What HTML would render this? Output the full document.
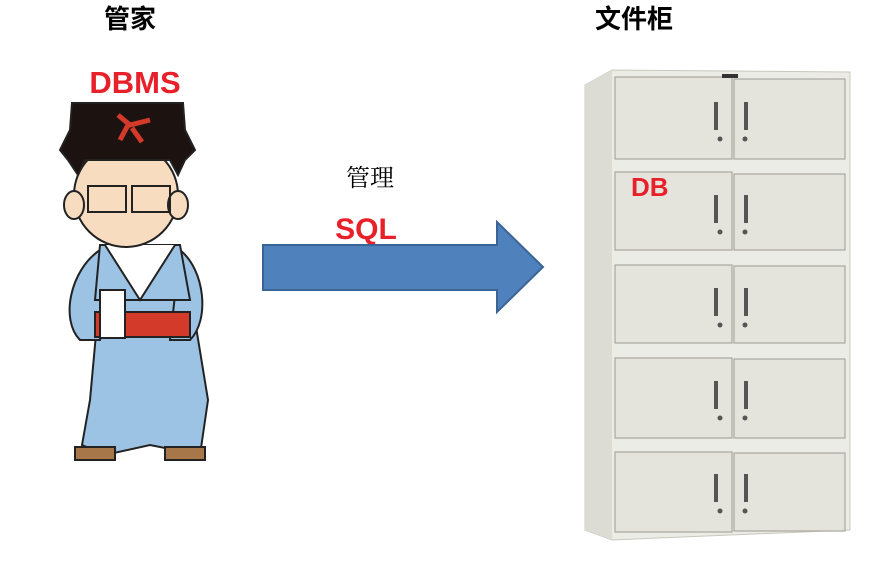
<!DOCTYPE html>
<html><head><meta charset="utf-8"><style>
body{margin:0;background:#fff;width:871px;height:571px;overflow:hidden;font-family:"Liberation Sans","Noto Sans CJK SC",sans-serif}
</style></head><body>
<svg width="871" height="571" viewBox="0 0 871 571" xmlns="http://www.w3.org/2000/svg">
<text x="130" y="28" font-size="26" text-anchor="middle" font-family="Noto Sans CJK SC,sans-serif" font-weight="bold">管家</text>
<text x="634" y="28" font-size="26" text-anchor="middle" font-family="Noto Sans CJK SC,sans-serif" font-weight="bold">文件柜</text>
<text x="135" y="93" font-size="31" text-anchor="middle" fill="#e8202a" font-weight="bold" font-family="Liberation Sans,sans-serif">DBMS</text>
<text x="370" y="186" font-size="24" text-anchor="middle" font-family="Noto Serif CJK SC,serif">管理</text>
<text x="366" y="239" font-size="30" text-anchor="middle" fill="#e8202a" font-weight="bold" font-family="Liberation Sans,sans-serif">SQL</text>
<path d="M263 245 H497 V222 L543 267 L497 312 V290 H263 Z" fill="#4f81bd" stroke="#3a6496" stroke-width="2"/>
<g stroke="#222" stroke-width="2">
<path d="M90 400 L82 445 L105 455 L150 445 L200 455 L208 400 L190 290 L100 290 Z" fill="#9cc3e4"/>
<path d="M100 250 C70 270 60 320 80 340 L100 340 L110 300 Z" fill="#9cc3e4"/>
<path d="M180 250 C205 270 210 320 190 340 L170 340 Z" fill="#9cc3e4"/>
<path d="M100 245 L180 245 L190 300 L95 300 Z" fill="#9cc3e4"/>
<path d="M105 245 L140 300 L175 245" fill="#fff"/>
<rect x="95" y="312" width="95" height="25" fill="#d43a2a"/>
<rect x="100" y="290" width="25" height="48" fill="#fff"/>
<path d="M75 447 h40 v13 h-40z M165 447 h40 v13 h-40z" fill="#a7774a"/>
<ellipse cx="126" cy="195" rx="52" ry="52" fill="#f7dcc0"/>
<ellipse cx="74" cy="205" rx="10" ry="14" fill="#f7dcc0"/>
<ellipse cx="178" cy="205" rx="10" ry="14" fill="#f7dcc0"/>
<path d="M72 103 L183 103 L185 130 L195 150 L185 160 L178 175 L170 160 L85 160 L78 175 L68 160 L60 150 L70 130 Z" fill="#1c1210"/>
<rect x="88" y="186" width="38" height="26" fill="none"/>
<rect x="132" y="186" width="38" height="26" fill="none"/>
</g>
<path d="M118 115 L130 125 L150 120 M128 125 L120 140 M132 128 L142 142" stroke="#d43a2a" stroke-width="5" fill="none"/>
<path d="M585 85 L612 70 L850 72 L850 530 L612 540 L585 530 Z" fill="#ecece6" stroke="#c8c8c0"/>
<path d="M585 85 L612 70 L612 540 L585 530 Z" fill="#dcdcd4"/>
<g fill="#e4e4dd" stroke="#a8a8a0" stroke-width="1.2">
<rect x="615" y="77" width="117" height="82"/><rect x="734" y="79" width="111" height="80"/>
<rect x="615" y="172" width="117" height="78"/><rect x="734" y="174" width="111" height="76"/>
<rect x="615" y="265" width="117" height="78"/><rect x="734" y="266" width="111" height="77"/>
<rect x="615" y="358" width="117" height="80"/><rect x="734" y="359" width="111" height="79"/>
<rect x="615" y="452" width="117" height="80"/><rect x="734" y="453" width="111" height="78"/>
</g>
<rect x="722" y="74" width="16" height="4" fill="#333"/>
<g fill="#555">
<rect x="714" y="102" width="4" height="28"/><rect x="744" y="102" width="4" height="28"/>
<rect x="714" y="195" width="4" height="28"/><rect x="744" y="195" width="4" height="28"/>
<rect x="714" y="288" width="4" height="28"/><rect x="744" y="288" width="4" height="28"/>
<rect x="714" y="381" width="4" height="28"/><rect x="744" y="381" width="4" height="28"/>
<rect x="714" y="474" width="4" height="28"/><rect x="744" y="474" width="4" height="28"/>
<circle cx="720" cy="139" r="2.5"/><circle cx="745" cy="139" r="2.5"/>
<circle cx="720" cy="232" r="2.5"/><circle cx="745" cy="232" r="2.5"/>
<circle cx="720" cy="325" r="2.5"/><circle cx="745" cy="325" r="2.5"/>
<circle cx="720" cy="418" r="2.5"/><circle cx="745" cy="418" r="2.5"/>
<circle cx="720" cy="511" r="2.5"/><circle cx="745" cy="511" r="2.5"/>
</g>
<text x="631" y="196" font-size="26" fill="#e8202a" font-weight="bold" font-family="Liberation Sans,sans-serif">DB</text>
</svg>
</body></html>
